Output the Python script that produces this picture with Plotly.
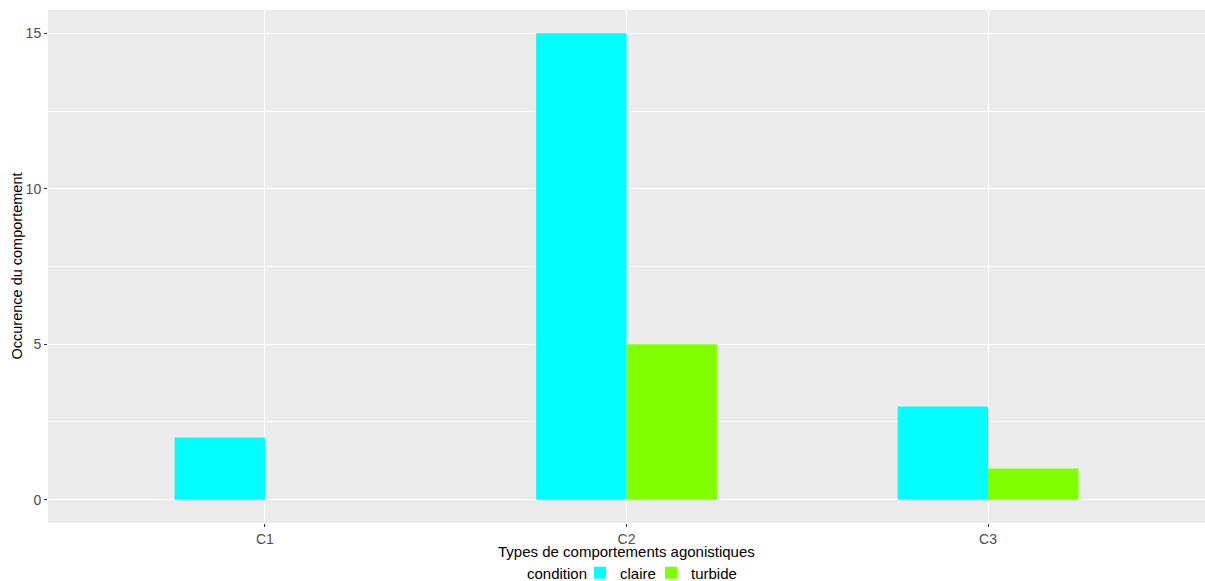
import plotly.graph_objects as go

categories = ["C1", "C2", "C3"]
claire = [2, 15, 3]
turbide = [0, 5, 1]
y_ticks = [0, 5, 10, 15]

xpos = [1, 2, 3]

fig = go.Figure()
fig.add_trace(go.Bar(x=xpos, y=claire, name="claire", legend="legend",
                     marker=dict(color="#00FFFF", line=dict(width=0))))
fig.add_trace(go.Bar(x=xpos, y=turbide, name="turbide", legend="legend2",
                     marker=dict(color="#7FFF00", line=dict(width=0))))

FONT = "Liberation Sans, Arial, sans-serif"
leg_common = dict(orientation="h", xanchor="left", y=-0.0975, yanchor="middle",
                  font=dict(size=15, color="black"), itemwidth=30,
                  bgcolor="rgba(0,0,0,0)")
fig.update_layout(
    width=1205, height=581,
    margin=dict(l=48, r=0, t=10, b=58, autoexpand=False),
    paper_bgcolor="white",
    plot_bgcolor="#EBEBEB",
    barmode="group", bargap=0.5, bargroupgap=0,
    font=dict(family=FONT, size=15, color="black"),
    showlegend=True,
    legend=dict(x=(580 - 48) / 1157, **leg_common),
    legend2=dict(x=(651 - 48) / 1157, **leg_common),
    annotations=[
        dict(text="Types de comportements agonistiques", xref="paper", yref="paper",
             x=0.5, y=0, yshift=-28, xanchor="center", yanchor="middle",
             showarrow=False, font=dict(size=15, color="black")),
        dict(text="Occurence du comportement", xref="paper", yref="paper",
             x=0, y=0.5, xshift=-32, xanchor="center", yanchor="middle", textangle=-90,
             showarrow=False, font=dict(size=14.5, color="black")),
        dict(text="condition", xref="paper", yref="paper",
             x=0, y=0, xshift=477, yshift=-50, xanchor="left", yanchor="middle",
             showarrow=False, font=dict(size=15, color="black")),
    ],
)
fig.update_xaxes(
    range=[0.4, 3.6], tickmode="array", tickvals=xpos, ticktext=categories,
    showgrid=True, gridcolor="white", gridwidth=1.3, zeroline=False, automargin=False,
    ticks="outside", ticklen=3, tickcolor="#333333", tickwidth=1,
    tickfont=dict(size=14, color="#4D4D4D"),
)
fig.update_yaxes(
    range=[-0.75, 15.75], tickmode="array", tickvals=y_ticks,
    showgrid=True, gridcolor="white", gridwidth=1.3, zeroline=False, automargin=False,
    minor=dict(tickvals=[2.5, 7.5, 12.5], showgrid=True, gridcolor="white", gridwidth=0.6),
    ticks="outside", ticklen=3, tickcolor="#333333", tickwidth=1,
    tickfont=dict(size=14, color="#4D4D4D"),
)

fig.write_html("out.html", config={"displayModeBar": False},
               post_script="document.body.style.margin='0';document.body.style.overflow='hidden';")
